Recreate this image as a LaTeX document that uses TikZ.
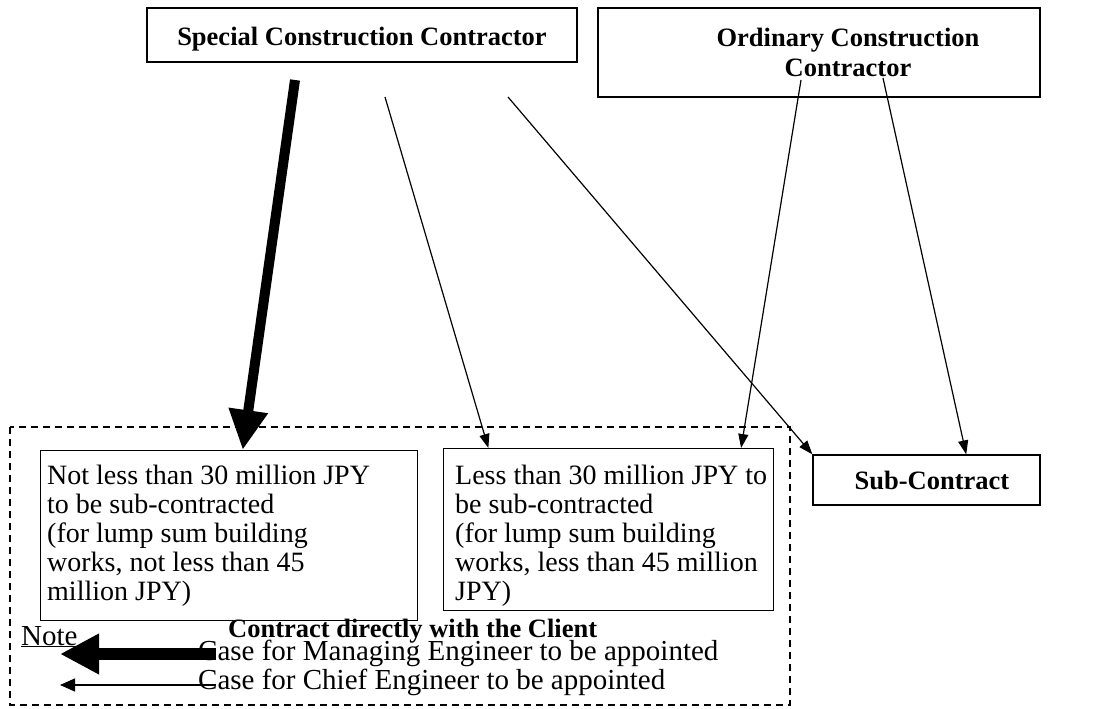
\documentclass[tikz,border=0pt]{standalone}
\usepackage{fontspec}
\setmainfont{Liberation Serif}
\usetikzlibrary{arrows.meta,calc}
\begin{document}
\begin{tikzpicture}[x=1pt,y=-1pt,
  txt/.style={font=\fontsize{28}{29}\selectfont, inner sep=0pt},
  ltxt/.style={font=\fontsize{29}{30}\selectfont, inner sep=0pt},
  btxt/.style={font=\fontsize{26.5}{30}\selectfont\bfseries, inner sep=0pt},
  box/.style={draw, line width=1.2pt, inner sep=0pt},
  link/.style={line width=1.2pt, -{Triangle[length=14pt,width=10pt]}},
  heavy/.style={line width=10pt, -{Triangle[length=40pt,width=37pt]}},
  zone/.style={draw, line width=1.2pt, dash pattern=on 7pt off 5pt}]
\useasboundingbox (0,0) rectangle (1119,709);

% dashed frame: contracts made directly with the client
\draw[zone] (10,427) rectangle (790,705);

% contractor boxes
\node[box, minimum width=430pt, minimum height=54pt] (sc) at (362,35) {};
\node[btxt, anchor=base] (sctext) at (362,46) {Special Construction Contractor};
\node[box, minimum width=442pt, minimum height=89pt] (oc) at (819,52.5) {};
\node[btxt, anchor=north, align=center] (octext) at (848,27.5) {Ordinary Construction\\Contractor};
\node[box, minimum width=227pt, minimum height=50pt] (sub) at (926.5,480) {};
\node[btxt, anchor=base] (subtext) at (932,489) {Sub-Contract};

% threshold boxes
\node[box, anchor=north west, minimum width=377pt, minimum height=170pt] (big) at (40,450) {};
\node[txt, anchor=north west, align=left] (bigtext) at (47,465)
  {Not less than 30 million JPY\\to be sub-contracted\\(for lump sum building\\works, not less than 45\\million JPY)};
\node[box, anchor=north west, minimum width=330pt, minimum height=162pt] (small) at (443,448) {};
\node[txt, anchor=north west, align=left] (smalltext) at (455,465)
  {Less than 30 million JPY to\\be sub-contracted\\(for lump sum building\\works, less than 45 million\\JPY)};

% start points of the connectors
\coordinate (s1) at (295,80);
\coordinate (s2) at (385,97);
\coordinate (s3) at (508,97);
\coordinate (s4) at (801,80);
\coordinate (s5) at (883,78);

\draw[heavy] (s1) -- ($(big.north west)!0.536!(big.north east)$);
\draw[link] (s2) -- ($(small.north west)!0.137!(small.north east)$);
\draw[link] (s3) -- (sub.north west);
\draw[link] (s4) -- ($(small.north west)!0.9!(small.north east)$);
\draw[link] (s5) -- ($(sub.north west)!0.674!(sub.north east)$);

% legend
\node[ltxt, anchor=base west] (note) at (21,645) {\underline{Note}};
\node[btxt, anchor=base west] (direct) at (228,637) {Contract directly with the Client};
\node[ltxt, anchor=base west] (mgr) at (198,660) {Case for Managing Engineer to be appointed};
\node[ltxt, anchor=base west] (chief) at (198,689) {Case for Chief Engineer to be appointed};
\coordinate (k1) at (60,654);
\coordinate (k2) at (60,685);
\coordinate (t1) at (216,654);
\coordinate (t2) at (216,685);
\draw[line width=12pt, -{Triangle[length=39pt,width=38pt]}] (t1) -- (k1);
\draw[line width=1.3pt, -{Triangle[length=15pt,width=13pt]}] (t2) -- (k2);
\end{tikzpicture}
\end{document}
